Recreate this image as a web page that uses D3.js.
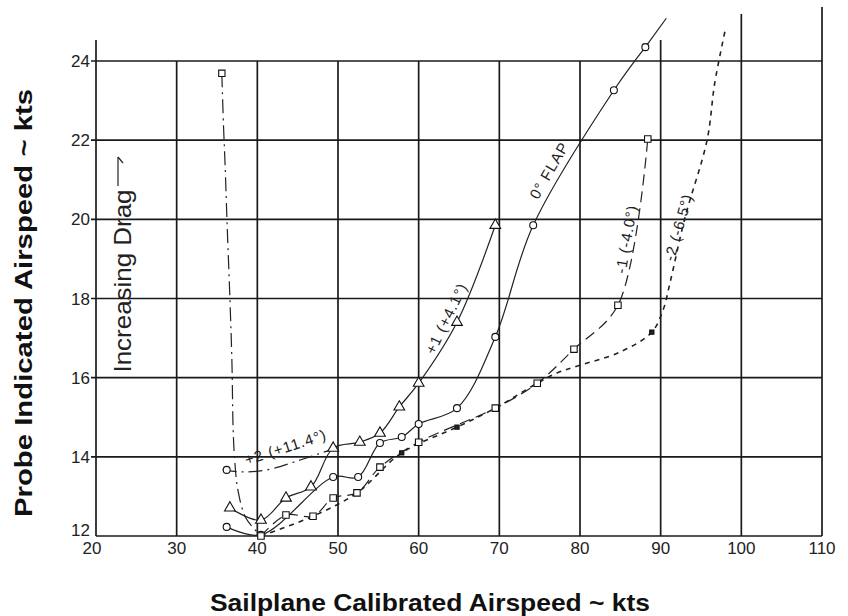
<!DOCTYPE html>
<html>
<head>
<meta charset="utf-8">
<script src="https://cdn.jsdelivr.net/npm/d3@7/dist/d3.min.js"></script>
<style>
  html, body { margin: 0; padding: 0; background: #fff; }
  svg { display: block; }
  .grid { stroke: #1a1a1a; stroke-width: 1.7; }
  .curve { fill: none; stroke: #222; stroke-width: 1.2; }
  .tick-label { font-family: 'Liberation Sans', Arial, sans-serif; font-size: 17px; fill: #222; }
  .note { font-family: 'Liberation Sans', Arial, sans-serif; font-size: 15px; fill: #222; letter-spacing: 1px; }
  .title { font-family: 'Liberation Sans', Arial, sans-serif; font-weight: bold; font-size: 24px; fill: #111; }
</style>
</head>
<body>
<svg id="chart" width="848" height="616"></svg>
<script>
// tick values
const xTicks = [20, 30, 40, 50, 60, 70, 80, 90, 100, 110];
const yTicks = [12, 14, 16, 18, 20, 22, 24];

// [calibrated kts, probe indicated kts]
const flap0 = [[36.2,12.23],[40.45,12.03],[49.4,13.49],[52.5,13.49],[55.2,14.35],[57.9,14.5],[60.0,14.83],
  [64.75,15.23],[69.5,17.03],[74.2,19.85],[84.2,23.26],[88.1,24.35]];
const flap0Tail = [[88.1,24.35],[90.7,25.08]];
const plus1 = [[36.6,12.71],[40.45,12.4],[43.55,12.96],[46.65,13.24],[49.4,14.22],[52.7,14.37],[55.2,14.6],
  [57.6,15.26],[60.0,15.86],[64.75,17.4],[69.5,19.85]];
const minus1 = [[40.45,12.0],[43.55,12.53],[46.9,12.5],[49.4,12.96],[52.35,13.09],[55.2,13.74],[60.0,14.37],
  [69.5,15.23],[74.7,15.86],[79.25,16.72],[84.7,17.83],[88.4,22.03]];
const minus2Curve = [[40.45,12.0],[46.9,12.5],[52.35,13.09],[57.9,14.1],[64.75,14.75],[69.5,15.23],[74.7,15.86],
  [77.15,16.12],[79.6,16.29],[85.0,16.65],[88.9,17.15],[90.3,17.71],[91.15,18.39],[93.0,20.03],[95.75,22.0],
  [96.7,23.44],[98.0,24.78]];
const minus2Points = [[57.9,14.1],[64.75,14.75],[88.9,17.15]];
const plus2Curve = [[35.6,23.69],[35.8,22.4],[36.0,21.4],[36.25,19.9],[36.6,18.0],[36.85,16.4],[37.0,14.7],
  [37.2,13.9],[37.6,13.15],[38.6,12.45],[40.45,12.0]];
const plus2Lead = [[35.7,13.67],[38.2,13.62],[41.2,13.67],[45.3,13.92],[49.0,14.17]];
const plus2Points = [[35.6,23.69]];
const plus2Circle = [[36.2,13.67]];

const notes = [
  { text: '0° FLAP', at: [76.15, 21.24], angle: -60 },
  { text: '+1 (+4.1°)', at: [63.4, 17.5], angle: -64 },
  { text: '-1 (-4.0°)', at: [85.7, 19.5], angle: -80 },
  { text: '-2 (-6.5°)', at: [92.15, 19.8], angle: -74 },
  { text: '+2 (+11.4°)', at: [43.5, 14.25], angle: -18 }
];

const svg = d3.select('svg#chart');
const x = d3.scaleLinear().domain([20, 110]).range([96, 822]);
const y = d3.scaleLinear().domain([12, 24]).range([536, 61]);

// how far some vertical rules run above the 24 line
const topOf = { 20: 40, 90: 40, 100: 14, 110: 7 };

const grid = svg.append('g');
grid.selectAll('line.v').data(xTicks).enter().append('line')
  .attr('class', 'grid')
  .attr('x1', d => x(d)).attr('x2', d => x(d))
  .attr('y1', y(12)).attr('y2', d => topOf[d] !== undefined ? topOf[d] : y(24));
grid.selectAll('line.h').data(yTicks).enter().append('line')
  .attr('class', 'grid')
  .attr('x1', d => d == 12 ? x(20) : x(20) - 5).attr('x2', x(110))
  .attr('y1', d => y(d)).attr('y2', d => y(d));

svg.selectAll('text.xt').data(xTicks).enter().append('text')
  .attr('class', 'tick-label')
  .attr('x', d => x(d) - (d == 20 ? 4 : 0)).attr('y', y(12) + 18)
  .attr('text-anchor', 'middle')
  .text(d => d);
svg.selectAll('text.yt').data(yTicks).enter().append('text')
  .attr('class', 'tick-label')
  .attr('x', x(20) - 6).attr('y', d => y(d) + (d == 12 ? 0 : 6))
  .attr('text-anchor', 'end')
  .text(d => d);

const line = d3.line().x(d => x(d[0])).y(d => y(d[1])).curve(d3.curveCatmullRom.alpha(0.5));
const curves = svg.append('g');
curves.append('path').attr('class', 'curve').attr('d', line(flap0));
curves.append('path').attr('class', 'curve').attr('d', line(flap0Tail));
curves.append('path').attr('class', 'curve').attr('d', line(plus1));
curves.append('path').attr('class', 'curve').attr('d', line(minus1)).style('stroke-dasharray', '11,6');
curves.append('path').attr('class', 'curve').attr('d', line(minus2Curve))
  .style('stroke-dasharray', '5,5').style('stroke-width', 1.6);
curves.append('path').attr('class', 'curve').attr('d', line(plus2Curve)).style('stroke-dasharray', '14,5,2,5');
curves.append('path').attr('class', 'curve').attr('d', line(plus2Lead)).style('stroke-dasharray', '14,5,2,5');

function markers(data, type, size, fill) {
  svg.append('g').selectAll('path').data(data).enter().append('path')
    .attr('d', d3.symbol().type(type).size(size))
    .attr('transform', d => `translate(${x(d[0])},${y(d[1])})`)
    .style('fill', fill).style('stroke', '#111').style('stroke-width', 1.1);
}
markers(flap0, d3.symbolCircle, 38, '#fff');
markers(plus1, d3.symbolTriangle, 50, '#fff');
markers(minus1, d3.symbolSquare, 42, '#fff');
markers(minus2Points, d3.symbolSquare, 18, '#222');
markers(plus2Points, d3.symbolSquare, 40, '#fff');
markers(plus2Circle, d3.symbolCircle, 38, '#fff');

svg.selectAll('text.note').data(notes).enter().append('text')
  .attr('class', 'note')
  .attr('text-anchor', 'middle')
  .attr('dominant-baseline', 'central')
  .attr('transform', d => `translate(${x(d.at[0])},${y(d.at[1])}) rotate(${d.angle})`)
  .text(d => d.text);

// "Increasing Drag" with arrow
svg.append('text')
  .attr('class', 'note')
  .style('font-size', '24px').style('letter-spacing', '0px')
  .attr('text-anchor', 'middle')
  .attr('transform', 'translate(131,281) rotate(-90)')
  .attr('textLength', 183).attr('lengthAdjust', 'spacingAndGlyphs')
  .text('Increasing Drag');
svg.append('line').attr('class', 'curve')
  .attr('x1', 118).attr('x2', 118).attr('y1', 186).attr('y2', 157);
svg.append('path').attr('class', 'curve').attr('d', 'M118,157 L123,163');

// axis titles
svg.append('text').attr('class', 'title')
  .attr('text-anchor', 'middle')
  .attr('x', 430).attr('y', 611)
  .attr('textLength', 440).attr('lengthAdjust', 'spacingAndGlyphs')
  .text('Sailplane Calibrated Airspeed ~ kts');
svg.append('text').attr('class', 'title')
  .attr('text-anchor', 'middle')
  .attr('transform', 'translate(32,303) rotate(-90)')
  .attr('textLength', 428).attr('lengthAdjust', 'spacingAndGlyphs')
  .text('Probe Indicated Airspeed ~ kts');
</script>
</body>
</html>
